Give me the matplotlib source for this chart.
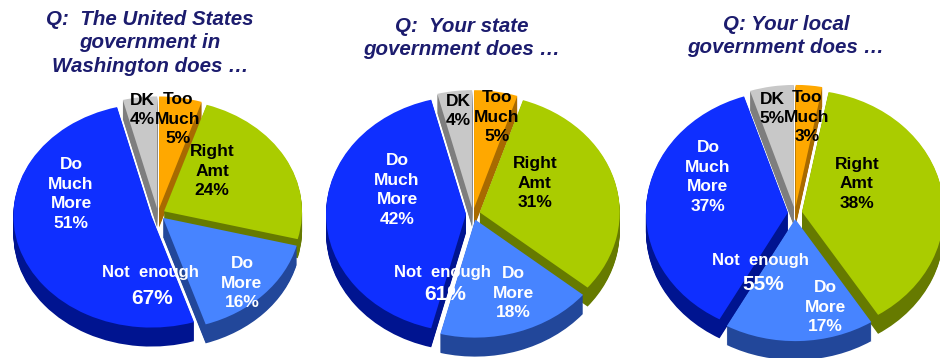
import matplotlib.pyplot as plt

# answer categories, clockwise from 12 o'clock
categories = ["Too\nMuch", "Right\nAmt", "Do\nMore", "Do\nMuch\nMore", "DK"]
federal = [5, 24, 16, 51, 4]
state = [5, 31, 18, 42, 4]
local = [3, 38, 17, 37, 5]
# combined "Do More" + "Do Much More" as reported
not_enough = [67, 61, 55]

titles = ["Q:  The United States\ngovernment in\nWashington does …",
          "Q:  Your state\ngovernment does …",
          "Q: Your local\ngovernment does …"]

top_colors = ["#FFA800", "#AACC00", "#4784FF", "#0F2FFF", "#C8C8C8"]
side_colors = ["#A86A00", "#667A00", "#22479A", "#001490", "#7E7E7E"]
text_colors = ["black", "black", "white", "white", "black"]
TITLE_COLOR = "#1C1C6E"

W, H = 940, 358
DEPTH = 19

# pixel layout for each pie: centre, radii, title anchor and label anchors
layouts = [
    dict(center=(158, 214), rx=138, ry=112, title=(150, 43),
         labels=[(178, 119), (212, 171), (242, 283), (71, 194), (142, 110)],
         not_enough=(150, 273), total=(152, 298)),
    dict(center=(473, 214), rx=140, ry=118, title=(462, 38),
         labels=[(497, 117), (535, 183), (513, 293), (397, 190), (458, 111)],
         not_enough=(442, 273), total=(445, 295)),
    dict(center=(795, 213), rx=142, ry=122, title=(786, 36),
         labels=[(807, 117), (857, 184), (825, 307), (708, 177), (772, 109)],
         not_enough=(760, 260), total=(763, 285)),
]

plt.rcParams['font.family'] = ['Liberation Sans', 'DejaVu Sans']

fig = plt.figure(figsize=(W / 100, H / 100), dpi=100)


def draw_pie(values, cx, cy, rx, ry):
    ax = fig.add_axes([0, 0, 1, 1])
    explode = [0.05] * len(values)
    # stack darker copies downwards to fake the extruded side
    for k in range(DEPTH, 0, -1):
        ax.pie(values, colors=side_colors, explode=explode, startangle=90,
               counterclock=False, center=(0, -k / ry), radius=1,
               wedgeprops=dict(linewidth=0))
    ax.pie(values, colors=top_colors, explode=explode, startangle=90,
           counterclock=False, radius=1, wedgeprops=dict(linewidth=0))
    ax.set_aspect('auto')
    ax.set_xlim(-cx / rx, (W - cx) / rx)
    ax.set_ylim(-(H - cy) / ry, cy / ry)
    ax.axis('off')


for values, lay in zip([federal, state, local], layouts):
    draw_pie(values, lay['center'][0], lay['center'][1], lay['rx'], lay['ry'])

# text overlay in pixel coordinates
ov = fig.add_axes([0, 0, 1, 1])
ov.set_xlim(0, W)
ov.set_ylim(H, 0)
ov.axis('off')

for values, total, lay, title in zip([federal, state, local], not_enough, layouts, titles):
    ov.text(lay['title'][0], lay['title'][1], title, ha='center', va='center',
            fontsize=14.8, fontweight='bold', fontstyle='italic',
            color=TITLE_COLOR, linespacing=1.33)
    for cat, val, (x, y), tc in zip(categories, values, lay['labels'], text_colors):
        ov.text(x, y, f"{cat}\n{val}%", ha='center', va='center',
                fontsize=12.5, fontweight='bold', color=tc, linespacing=1.38)
    ov.text(lay['not_enough'][0], lay['not_enough'][1], "Not  enough",
            ha='center', va='center', fontsize=12, fontweight='bold', color='white')
    ov.text(lay['total'][0], lay['total'][1], f"{total}%",
            ha='center', va='center', fontsize=15, fontweight='bold', color='white')

fig.savefig("out.png", dpi=100)
